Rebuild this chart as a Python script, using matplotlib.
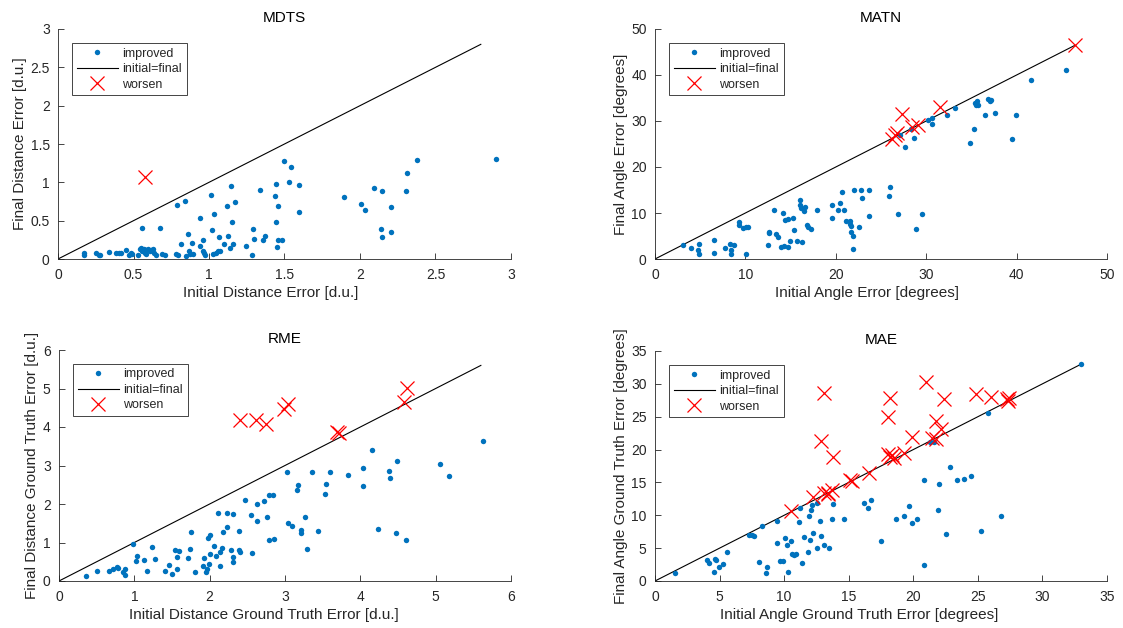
import numpy as np
import matplotlib
matplotlib.use("Agg")
import matplotlib.pyplot as plt

plt.rcParams['font.family'] = ['Liberation Sans', 'DejaVu Sans']

BLUE = '#0072BD'
RED = '#FF0000'
DARK = '#262626'

# ---------------- MDTS ----------------
mdts_imp_x = [0.172, 0.172, 0.254, 0.272, 0.281, 0.338, 0.387, 0.404, 0.415, 0.448,
              0.471, 0.486, 0.493, 0.530, 0.541, 0.552, 0.559, 0.568, 0.574, 0.581,
              0.585, 0.596, 0.607, 0.619, 0.630, 0.636, 0.647, 0.559, 0.674, 0.691,
              0.707, 0.780, 0.795, 0.817, 0.791, 0.842, 0.846, 0.859, 0.868, 0.873,
              0.890, 0.895, 0.943, 0.943, 0.961, 0.961, 0.968, 0.972, 1.012, 1.023,
              1.032, 1.027, 1.049, 1.060, 1.067, 1.076, 1.098, 1.122, 1.129, 1.138,
              1.149, 1.155, 1.157, 1.173, 1.244, 1.288, 1.292, 1.301, 1.341, 1.356,
              1.374, 1.434, 1.447, 1.447, 1.451, 1.460, 1.460, 1.482, 1.495, 1.531,
              1.540, 1.593, 1.597, 1.897, 2.004, 2.034, 2.092, 2.136, 2.145, 2.149,
              2.202, 2.207, 2.304, 2.308, 2.375, 2.900]
mdts_imp_y = [0.078, 0.056, 0.078, 0.056, 0.056, 0.087, 0.078, 0.078, 0.078, 0.122,
              0.048, 0.078, 0.065, 0.056, 0.130, 0.143, 0.109, 0.130, 0.078, 0.122,
              0.065, 0.130, 0.100, 0.122, 0.130, 0.078, 0.056, 0.408, 0.404, 0.065,
              0.056, 0.065, 0.048, 0.191, 0.707, 0.751, 0.035, 0.326, 0.100, 0.065,
              0.208, 0.065, 0.538, 0.165, 0.252, 0.109, 0.078, 0.056, 0.829, 0.378,
              0.586, 0.065, 0.078, 0.100, 0.282, 0.109, 0.195, 0.690, 0.299, 0.143,
              0.946, 0.486, 0.200, 0.742, 0.165, 0.048, 0.386, 0.265, 0.894, 0.243,
              0.304, 0.816, 0.977, 0.482, 0.156, 0.690, 0.243, 0.252, 1.276, 1.007,
              1.198, 0.612, 0.959, 0.812, 0.712, 0.642, 0.929, 0.391, 0.286, 0.881,
              0.352, 0.681, 0.885, 1.120, 1.289, 1.306]
mdts_wor_x = [0.574]
mdts_wor_y = [1.076]
mdts_diag = 2.8

# ---------------- MATN ----------------
matn_imp_x = [3.14, 3.99, 4.80, 4.87, 4.87, 6.57, 6.57, 7.79, 8.30, 8.38, 8.41, 8.75,
              9.34, 9.34, 9.70, 10.04, 10.30, 10.04, 12.55, 12.62, 12.62, 13.21, 13.39,
              13.65, 13.91, 14.13, 14.28, 14.43, 14.69, 14.72, 14.98, 15.31, 15.39,
              15.68, 16.09, 16.09, 16.16, 16.46, 16.57, 16.27, 16.79, 16.97, 17.27,
              17.93, 19.63, 19.63, 20.26, 20.44, 20.74, 20.89, 21.14, 21.59, 21.62,
              21.66, 21.73, 21.92, 21.85, 21.96, 22.55, 22.77, 22.95, 23.65, 23.65,
              25.83, 26.01, 26.90, 27.12, 27.64, 28.30, 28.60, 28.89, 29.59, 30.15,
              30.59, 30.66, 32.32, 33.14, 34.83, 35.31, 35.35, 35.50, 35.65, 35.76,
              36.53, 36.83, 37.08, 37.16, 37.60, 39.52, 39.96, 41.55, 45.50]
matn_imp_y = [2.97, 2.46, 1.88, 1.09, 3.26, 4.20, 1.37, 2.39, 3.26, 2.03, 1.16, 3.11,
              8.03, 7.45, 6.73, 6.95, 6.95, 1.01, 2.97, 5.86, 5.64, 10.64, 5.43,
              4.78, 2.53, 9.91, 2.89, 8.54, 8.76, 2.60, 3.91, 8.90, 6.37,
              3.84, 12.88, 11.79, 11.07, 10.49, 11.22, 3.62, 7.45, 6.95, 6.58,
              10.64, 11.72, 8.90, 10.56, 12.16, 14.62, 10.71, 8.25, 8.18, 7.67,
              7.09, 5.93, 4.99, 2.17, 14.98, 6.95, 14.98, 13.17, 15.05, 9.26,
              13.60, 15.70, 9.77, 26.99, 24.38, 28.29, 26.41, 6.51, 9.77, 30.17,
              29.45, 30.75, 31.33, 32.78, 25.25, 28.22, 33.86, 33.50, 34.30, 33.43,
              31.40, 34.73, 34.30, 34.52, 31.84, 26.12, 31.40, 39.00, 41.03]
matn_wor_x = [26.20, 26.57, 26.75, 27.31, 28.41, 29.04, 31.55, 46.49]
matn_wor_y = [26.05, 27.06, 27.50, 31.55, 28.80, 29.09, 33.00, 46.53]
matn_diag = 46.4

# ---------------- RME ----------------
rme_imp_x = [0.354, 0.504, 0.668, 0.712, 0.765, 0.788, 0.854, 0.876, 0.876, 0.978,
             1.018, 1.040, 1.133, 1.164, 1.239, 1.279, 1.403, 1.460, 1.496, 1.544,
             1.566, 1.566, 1.588, 1.717, 1.743, 1.748, 1.805, 1.916, 1.925, 1.951,
             1.969, 1.973, 1.991, 2.009, 2.009, 2.053, 2.088, 2.106, 2.137, 2.142,
             2.159, 2.173, 2.226, 2.230, 2.283, 2.305, 2.305, 2.314, 2.385, 2.394,
             2.407, 2.473, 2.553, 2.566, 2.624, 2.628, 2.717, 2.761, 2.783, 2.783,
             2.836, 2.850, 3.022, 3.040, 3.093, 3.159, 3.173, 3.208, 3.217, 3.265,
             3.292, 3.363, 3.434, 3.535, 3.544, 3.602, 3.841, 4.031, 4.040, 4.150,
             4.230, 4.381, 4.398, 4.469, 4.482, 4.602, 5.062, 5.177, 5.633]
rme_imp_y = [0.130, 0.268, 0.251, 0.320, 0.372, 0.329, 0.242, 0.312, 0.147, 0.952,
             0.528, 0.658, 0.545, 0.268, 0.883, 0.571, 0.268, 0.407, 0.182, 0.814,
             0.632, 0.312, 0.788, 0.597, 0.823, 1.273, 0.242, 0.398, 0.597, 0.242,
             0.320, 1.108, 0.433, 1.203, 0.701, 0.900, 0.641, 1.775, 0.745, 0.381,
             0.866, 1.273, 1.775, 1.403, 0.805, 0.623, 0.502, 1.732, 1.290, 0.805,
             0.753, 2.113, 1.706, 0.719, 1.991, 1.558, 2.087, 1.671, 1.056, 2.234,
             2.234, 1.082, 2.823, 1.506, 1.437, 2.355, 2.502, 1.333, 1.238, 1.671,
             0.831, 2.823, 1.290, 2.260, 2.511, 2.823, 2.753, 2.935, 2.476, 3.403,
             1.351, 2.848, 2.675, 1.255, 3.126, 1.065, 3.039, 2.727, 3.645]
rme_wor_x = [2.403, 2.611, 2.748, 2.987, 3.044, 3.686, 3.712, 4.575, 4.624]
rme_wor_y = [4.190, 4.190, 4.078, 4.476, 4.606, 3.879, 3.835, 4.658, 5.004]
rme_diag = 5.6

# ---------------- MAE ----------------
mae_imp_x = [1.55, 4.03, 4.16, 4.60, 4.65, 4.73, 4.99, 5.30, 5.61, 7.31, 7.49, 7.67,
             8.09, 8.32, 8.60, 8.71, 9.43, 9.48, 9.69, 9.89, 10.07, 10.20, 10.26,
             10.54, 10.62, 10.77, 10.90, 11.16, 11.24, 11.39, 11.55, 11.88, 11.91,
             12.01, 12.06, 12.12, 12.24, 12.53, 12.58, 12.76, 12.86, 13.12, 13.51,
             13.67, 13.82, 14.62, 16.21, 16.51, 16.69, 17.52, 18.70, 19.30, 19.68,
             19.87, 20.30, 20.82, 20.82, 21.31, 21.57, 21.93, 21.96, 22.50, 22.86,
             23.35, 23.90, 24.44, 25.24, 25.78, 26.76, 32.99]
mae_imp_y = [1.17, 3.19, 2.68, 1.42, 3.34, 3.19, 2.08, 2.53, 4.41, 6.99, 6.99, 6.89,
             2.84, 8.36, 1.27, 2.13, 9.12, 5.72, 3.09, 3.09, 6.48, 5.52, 1.32,
             6.03, 4.05, 4.00, 4.05, 9.02, 11.14, 2.79, 6.74, 4.41, 9.93,
             6.23, 10.79, 11.60, 7.24, 4.96, 11.90, 9.07, 6.89, 5.47, 4.96,
             9.37, 11.75, 9.47, 11.90, 11.04, 12.26, 6.08, 9.47, 9.93, 11.45,
             8.81, 9.37, 15.40, 2.38, 21.18, 21.18, 10.84, 14.69, 7.19, 17.33,
             15.35, 15.50, 16.01, 7.55, 25.53, 9.93, 33.08]
mae_wor_x = [10.54, 12.27, 12.84, 13.12, 13.12, 13.38, 13.43, 13.69, 13.82, 15.11,
             15.24, 16.56, 18.03, 18.03, 18.21, 18.21, 18.34, 18.47, 19.30, 19.92,
             20.95, 21.44, 21.73, 21.78, 22.14, 22.35, 24.83, 26.01, 27.25, 27.36,
             27.38]
mae_wor_y = [10.64, 12.82, 21.33, 28.62, 13.32, 13.42, 13.22, 13.83, 18.90, 15.35,
             15.25, 16.46, 19.30, 24.97, 27.86, 18.90, 19.25, 18.79, 19.55, 21.88,
             30.34, 21.83, 21.68, 24.37, 23.10, 27.66, 28.52, 28.01, 27.66, 27.41,
             27.86]
mae_diag = 33.0

panels = [
    dict(title='MDTS', ix=mdts_imp_x, iy=mdts_imp_y, wx=mdts_wor_x, wy=mdts_wor_y,
         diag=mdts_diag, lim=3, ticks=[0, 0.5, 1, 1.5, 2, 2.5, 3],
         labels=['0', '0.5', '1', '1.5', '2', '2.5', '3'],
         xlabel='Initial Distance Error [d.u.]', ylabel='Final Distance Error [d.u.]',
         rect=[58, 29, 511, 259], xlab_pos=0.470),
    dict(title='MATN', ix=matn_imp_x, iy=matn_imp_y, wx=matn_wor_x, wy=matn_wor_y,
         diag=matn_diag, lim=50, ticks=[0, 10, 20, 30, 40, 50],
         labels=['0', '10', '20', '30', '40', '50'],
         xlabel='Initial Angle Error [degrees]', ylabel='Final Angle Error [degrees]',
         rect=[655, 29, 1107, 259], xlab_pos=0.468),
    dict(title='RME', ix=rme_imp_x, iy=rme_imp_y, wx=rme_wor_x, wy=rme_wor_y,
         diag=rme_diag, lim=6, ticks=[0, 1, 2, 3, 4, 5, 6],
         labels=['0', '1', '2', '3', '4', '5', '6'],
         xlabel='Initial Distance Ground Truth Error [d.u.]',
         ylabel='Final Distance Ground Truth Error [d.u.]',
         rect=[59, 350, 511, 581], xlab_pos=0.453),
    dict(title='MAE', ix=mae_imp_x, iy=mae_imp_y, wx=mae_wor_x, wy=mae_wor_y,
         diag=mae_diag, lim=35, ticks=[0, 5, 10, 15, 20, 25, 30, 35],
         labels=['0', '5', '10', '15', '20', '25', '30', '35'],
         xlabel='Initial Angle Ground Truth Error [degrees]',
         ylabel='Final Angle Ground Truth Error [degrees]',
         rect=[655, 351, 1107, 581], xlab_pos=0.451),
]

W, H = 1123, 628
fig = plt.figure(figsize=(W / 100, H / 100), dpi=100)

for p in panels:
    l, t, r, b = p['rect']
    ax = fig.add_axes([l / W, 1 - b / H, (r - l) / W, (b - t) / H])
    ax.plot(p['ix'], p['iy'], linestyle='none', marker='o', markersize=3.9,
            markeredgewidth=0, color=BLUE, label='improved', zorder=3)
    ax.plot([0, p['diag']], [0, p['diag']], color='black', linewidth=0.8,
            label='initial=final', zorder=2)
    ax.plot(p['wx'], p['wy'], linestyle='none', marker='x', markersize=9.5,
            markeredgewidth=0.9, color=RED, label='worsen', zorder=4)
    ax.set_xlim(0, p['lim'])
    ax.set_ylim(0, p['lim'])
    ax.set_xticks(p['ticks'])
    ax.set_xticklabels(p['labels'])
    ax.set_yticks(p['ticks'])
    ax.set_yticklabels(p['labels'])
    for s in ('top', 'right'):
        ax.spines[s].set_visible(False)
    for s in ('left', 'bottom'):
        ax.spines[s].set_color(DARK)
        ax.spines[s].set_linewidth(0.6)
    ax.tick_params(direction='in', length=4, width=0.6, color=DARK,
                   labelcolor=DARK, labelsize=10)
    ax.tick_params(axis='x', pad=6.5)
    ax.tick_params(axis='y', pad=6)
    ax.set_title(p['title'], fontsize=11, color='black', pad=5)
    ax.set_xlabel(p['xlabel'], fontsize=11, color=DARK, labelpad=4.5)
    ax.xaxis.set_label_coords(p['xlab_pos'], -0.148)
    ax.xaxis.label.set_verticalalignment('center')
    ax.set_ylabel(p['ylabel'], fontsize=11, color=DARK, labelpad=2.5)
    leg = ax.legend(loc='upper left', fontsize=9, frameon=True, fancybox=False,
                    borderaxespad=1.1, handlelength=3.3, handletextpad=0.35,
                    borderpad=0.38, labelspacing=0.28)
    leg.get_frame().set_edgecolor(DARK)
    leg.get_frame().set_linewidth(0.6)
    leg.get_frame().set_alpha(1)
    for txt in leg.get_texts():
        txt.set_color(DARK)

fig.savefig('out.png', dpi=100, facecolor='white')
